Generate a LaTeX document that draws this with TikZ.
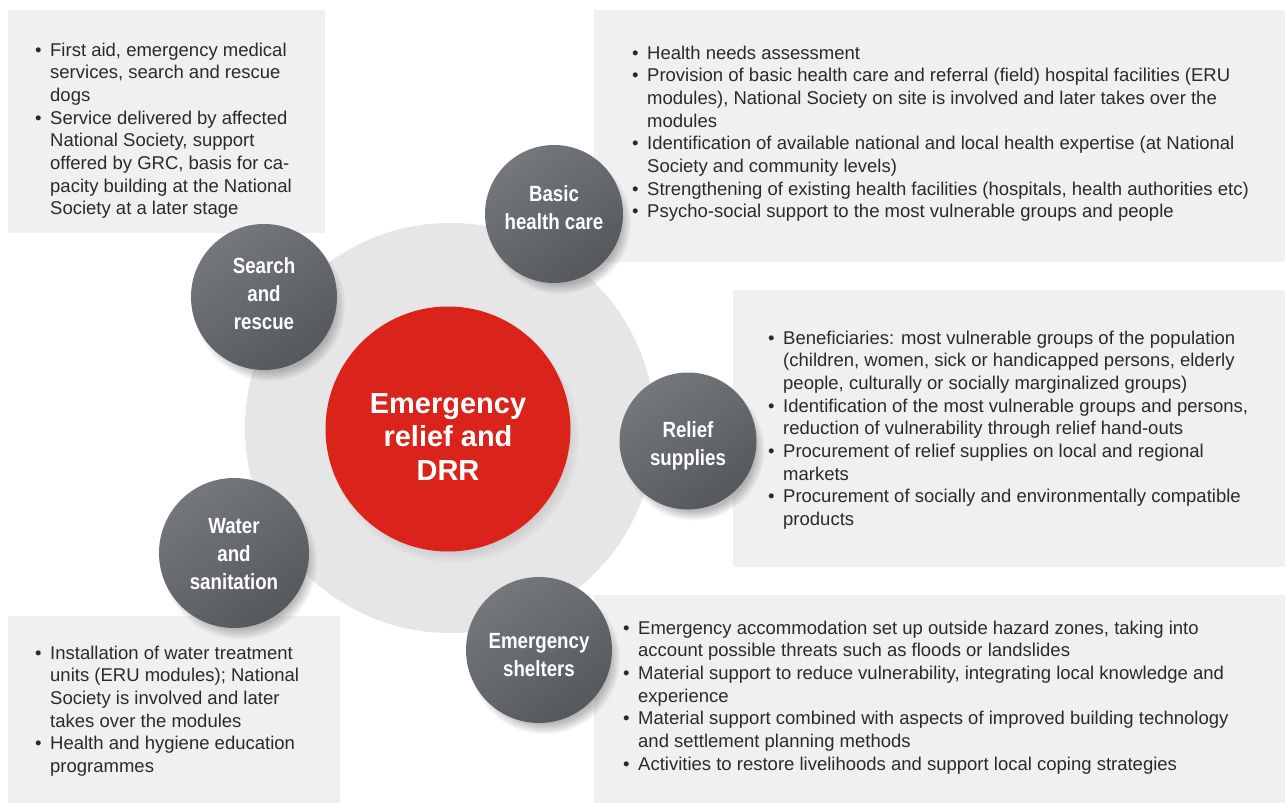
\documentclass[tikz,border=0pt]{standalone}
\usepackage{fontspec}
\setmainfont{Liberation Sans}
\newfontfamily\bodyfont{Liberation Sans}
\newfontfamily\hubfont[FakeStretch=0.85]{Liberation Sans}
\usetikzlibrary{shadows}
\definecolor{boxgray}{HTML}{EFF0EF}
\definecolor{ringgray}{HTML}{E6E6E6}
\definecolor{hubA}{HTML}{74777C}
\definecolor{hubB}{HTML}{55585C}
\definecolor{corered}{HTML}{DA241B}
\definecolor{bodyink}{HTML}{2A2A2A}
\newcommand{\bul}{\makebox[15pt][l]{\textbullet}}
\begin{document}
\begin{tikzpicture}[x=1pt,y=-1pt,
  infobox/.style={fill=boxgray, draw=none},
  ring/.style={circle, fill=ringgray, minimum size=410pt, inner sep=0pt},
  hub/.style={circle, minimum size=#1, inner sep=0pt, top color=hubA, bottom color=hubB,
    shading angle=35,
    circular drop shadow={shadow xshift=5pt, shadow yshift=-8pt, shadow scale=1.04, opacity=0.55}},
  hublabel/.style={text=white, align=center, inner sep=0pt,
    font=\hubfont\bfseries\fontsize{22}{28}\selectfont},
  core/.style={circle, minimum size=245pt, inner sep=0pt, fill=corered,
    circular drop shadow={shadow xshift=5pt, shadow yshift=-8pt, shadow scale=1.03, opacity=0.35}},
  corelabel/.style={text=white, align=center, inner sep=0pt,
    font=\bfseries\fontsize{29}{33.5}\selectfont},
  itemtext/.style={anchor=base west, inner sep=0pt, text=bodyink,
    font=\bodyfont\fontsize{18.5}{22.7}\selectfont}
]
\useasboundingbox (0,0) rectangle (1285,803);
\fill[white] (0,0) rectangle (1285,803);

% information panels
\fill[infobox] (8,10) rectangle (325,233);
\fill[infobox] (594,10) rectangle (1285,262);
\fill[infobox] (733,290) rectangle (1285,567);
\fill[infobox] (8,616) rectangle (340,803);
\fill[infobox] (594,595) rectangle (1285,803);

% rings
\node[ring] (ring) at (450,428) {};
\node[core] (core) at (448,429) {};
\node[corelabel] (coretext) at (448,437) {Emergency\\relief and\\DRR};

% hubs
\node[hub=146pt] (search) at (264,297) {};
\node[hub=138pt] (health) at (554,214) {};
\node[hub=137pt] (relief) at (688,441) {};
\node[hub=150pt] (water) at (234,553) {};
\node[hub=146pt] (shelter) at (539,650) {};
\node[hublabel] (searchtext) at (264,294) {Search\\and\\rescue};
\node[hublabel] (healthtext) at (554,208) {Basic\\health care};
\node[hublabel] (relieftext) at (688,446) {Relief\\supplies};
\node[hublabel] (watertext) at (234,554) {Water\\and\\sanitation};
\node[hublabel] (sheltertext) at (539,655) {Emergency\\shelters};

% texts
\node[itemtext] (tsearch) at (35,56) {\begin{tabular}[t]{@{}l@{}l@{}}
\bul & First aid, emergency medical\\
 & services, search and rescue\\
 & dogs\\
\bul & Service delivered by affected\\
 & National Society, support\\
 & offered by GRC, basis for ca-\\
 & pacity building at the National\\
 & Society at a later stage
\end{tabular}};

\node[itemtext] (thealth) at (632,59) {\begin{tabular}[t]{@{}l@{}l@{}}
\bul & Health needs assessment\\
\bul & Provision of basic health care and referral (field) hospital facilities (ERU\\
 & modules), National Society on site is involved and later takes over the\\
 & modules\\
\bul & Identification of available national and local health expertise (at National\\
 & Society and community levels)\\
\bul & Strengthening of existing health facilities (hospitals, health authorities etc)\\
\bul & Psycho-social support to the most vulnerable groups and people
\end{tabular}};

\node[itemtext] (trelief) at (768,344) {\begin{tabular}[t]{@{}l@{}l@{}}
\bul & Beneficiaries: most vulnerable groups of the population\\
 & (children, women, sick or handicapped persons, elderly\\
 & people, culturally or socially marginalized groups)\\
\bul & Identification of the most vulnerable groups and persons,\\
 & reduction of vulnerability through relief hand-outs\\
\bul & Procurement of relief supplies on local and regional\\
 & markets\\
\bul & Procurement of socially and environmentally compatible\\
 & products
\end{tabular}};

\node[itemtext] (twater) at (35,659) {\begin{tabular}[t]{@{}l@{}l@{}}
\bul & Installation of water treatment\\
 & units (ERU modules); National\\
 & Society is involved and later\\
 & takes over the modules\\
\bul & Health and hygiene education\\
 & programmes
\end{tabular}};

\node[itemtext] (tshelter) at (623,634) {\begin{tabular}[t]{@{}l@{}l@{}}
\bul & Emergency accommodation set up outside hazard zones, taking into\\
 & account possible threats such as floods or landslides\\
\bul & Material support to reduce vulnerability, integrating local knowledge and\\
 & experience\\
\bul & Material support combined with aspects of improved building technology\\
 & and settlement planning methods\\
\bul & Activities to restore livelihoods and support local coping strategies
\end{tabular}};
\end{tikzpicture}
\end{document}
